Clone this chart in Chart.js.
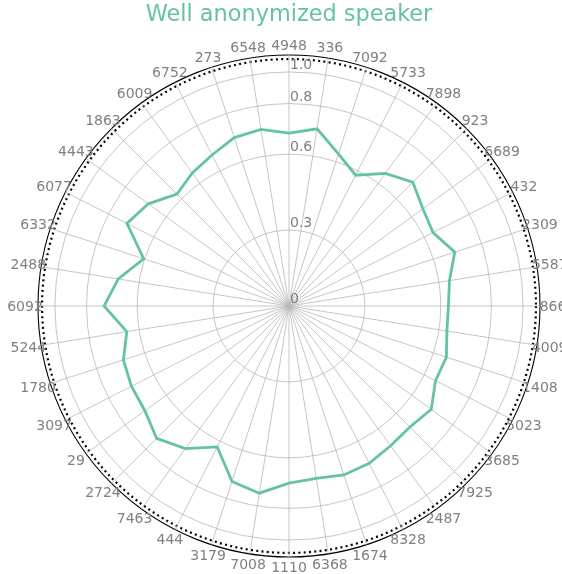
<!DOCTYPE html>
<html>
<head>
<meta charset="utf-8">
<script src="https://cdn.jsdelivr.net/npm/chart.js@4"></script>
<style>
  html, body { margin: 0; padding: 0; background: #fff; overflow: hidden; }
  #wrap { position: relative; width: 562px; height: 574px; }
</style>
</head>
<body>
<div id="wrap"><canvas id="radar"></canvas></div>
<script>
const speakers = ['4948', '336', '7092', '5733', '7898', '923', '6689', '432', '2309', '5587',
                  '866', '4009', '1408', '5023', '3685', '7925', '2487', '8328', '1674', '6368',
                  '1110', '7008', '3179', '444', '7463', '2724', '29', '3097', '1780', '5244',
                  '6092', '2488', '6332', '6077', '4443', '1863', '6009', '6752', '273', '6548'];

const scores = [0.683, 0.709, 0.632, 0.580, 0.648, 0.692, 0.654, 0.639, 0.689, 0.642,
                0.630, 0.632, 0.654, 0.650, 0.695, 0.676, 0.683, 0.698, 0.702, 0.690,
                0.700, 0.749, 0.729, 0.625, 0.697, 0.740, 0.704, 0.699, 0.688, 0.649,
                0.731, 0.683, 0.604, 0.719, 0.687, 0.626, 0.650, 0.670, 0.700, 0.707];

const tickValues = [0, 0.3, 0.6, 0.8, 0.925];
const tickLabels = ['0', '0.3', '0.6', '0.8', '1.0'];
const limitRing = 0.976;   // dotted ring
const rMax = 0.992;        // outer frame

const green = '#66c2a5';
const grey = '#808080';
const gridGrey = '#b8b8b8';
const labelFont = '14px "DejaVu Sans"';

// speaker ids centred on each spoke just outside the frame,
// radial tick labels left aligned on the vertical spoke above their ring
const polarLabels = {
  id: 'polarLabels',
  afterDatasetsDraw(chart) {
    const scale = chart.scales.r;
    const ctx = chart.ctx;
    ctx.save();
    ctx.font = labelFont;
    ctx.fillStyle = grey;

    ctx.textAlign = 'center';
    ctx.textBaseline = 'middle';
    chart.data.labels.forEach((name, i) => {
      const s = Math.abs(Math.sin(scale.getIndexAngle(i)));
      const p = scale.getPointPosition(i, scale.drawingArea + 10 + 3 * s);
      ctx.fillText(name, p.x, p.y + 1);
    });

    ctx.textAlign = 'left';
    ctx.textBaseline = 'alphabetic';
    tickValues.forEach((v, i) => {
      const r = scale.getDistanceFromCenterForValue(v);
      ctx.fillText(tickLabels[i], scale.xCenter + 1, scale.yCenter - r - 3);
    });
    ctx.restore();
  }
};

new Chart(document.getElementById('radar'), {
  type: 'radar',
  data: {
    labels: speakers,
    datasets: [{
      label: 'score',
      data: scores,
      borderColor: green,
      borderWidth: 2.8,
      pointRadius: 0,
      fill: false,
      tension: 0
    }]
  },
  options: {
    responsive: true,
    maintainAspectRatio: false,
    animation: false,
    layout: { padding: { left: 38, right: 22, top: 0, bottom: 17 } },
    plugins: {
      legend: { display: false },
      tooltip: { enabled: false },
      title: {
        display: true,
        text: 'Well anonymized speaker',
        color: green,
        font: { family: 'DejaVu Sans', size: 22.4, weight: 'normal' },
        padding: { top: 2, bottom: 26.12 }
      }
    },
    scales: {
      r: {
        min: 0,
        max: rMax,
        afterBuildTicks: scale => {
          scale.ticks = tickValues.concat([limitRing, rMax]).map(v => ({ value: v }));
        },
        ticks: { display: false },
        grid: {
          circular: true,
          color: ctx => (ctx.tick.value >= limitRing ? '#000' : gridGrey),
          lineWidth: ctx => (ctx.tick.value === limitRing ? 2.2 : ctx.tick.value === rMax ? 1.1 : 0.8)
        },
        border: {
          dash: ctx => (ctx.tick && ctx.tick.value === limitRing ? [2, 3.3] : [])
        },
        angleLines: { color: gridGrey, lineWidth: 0.8 },
        pointLabels: { display: false }
      }
    }
  },
  plugins: [polarLabels]
});
</script>
</body>
</html>
